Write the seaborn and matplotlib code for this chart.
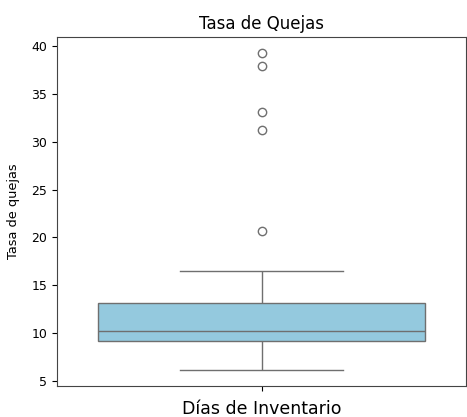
import matplotlib
matplotlib.use("Agg")
import matplotlib.pyplot as plt
import seaborn as sns
import pandas as pd

# Complaint rate observations (sorted)
tasa_quejas = [6.1, 7.2, 7.9, 8.4, 8.7, 8.9, 9.1, 9.3, 9.5, 9.7, 9.9, 10.0,
               10.2, 10.6, 11.1, 11.6, 12.2, 12.7, 13.1, 16.5,
               20.7, 31.2, 33.1, 37.9, 39.3]
y_ticks = [5, 10, 15, 20, 25, 30, 35, 40]

df = pd.DataFrame({"Tasa de quejas": tasa_quejas})

fig = plt.figure(figsize=(4.67, 4.17), dpi=100)
ax = fig.add_axes([57 / 467, 1 - 386 / 417, 409 / 467, 349 / 417])

sns.boxplot(data=df, y="Tasa de quejas", color="skyblue", ax=ax,
            flierprops=dict(markersize=6))

ax.set_yticks(y_ticks)
ax.set_xticks([0])
ax.set_xticklabels([""])
ax.set_title("Tasa de Quejas", fontsize=12)
ax.set_xlabel("Días de Inventario", fontsize=12.5, labelpad=3)
ax.set_ylabel("Tasa de quejas", fontsize=9.3, labelpad=8)
ax.tick_params(axis="y", labelsize=9)
for s in ax.spines.values():
    s.set_color("#444444")

fig.savefig("out.png", dpi=100)
